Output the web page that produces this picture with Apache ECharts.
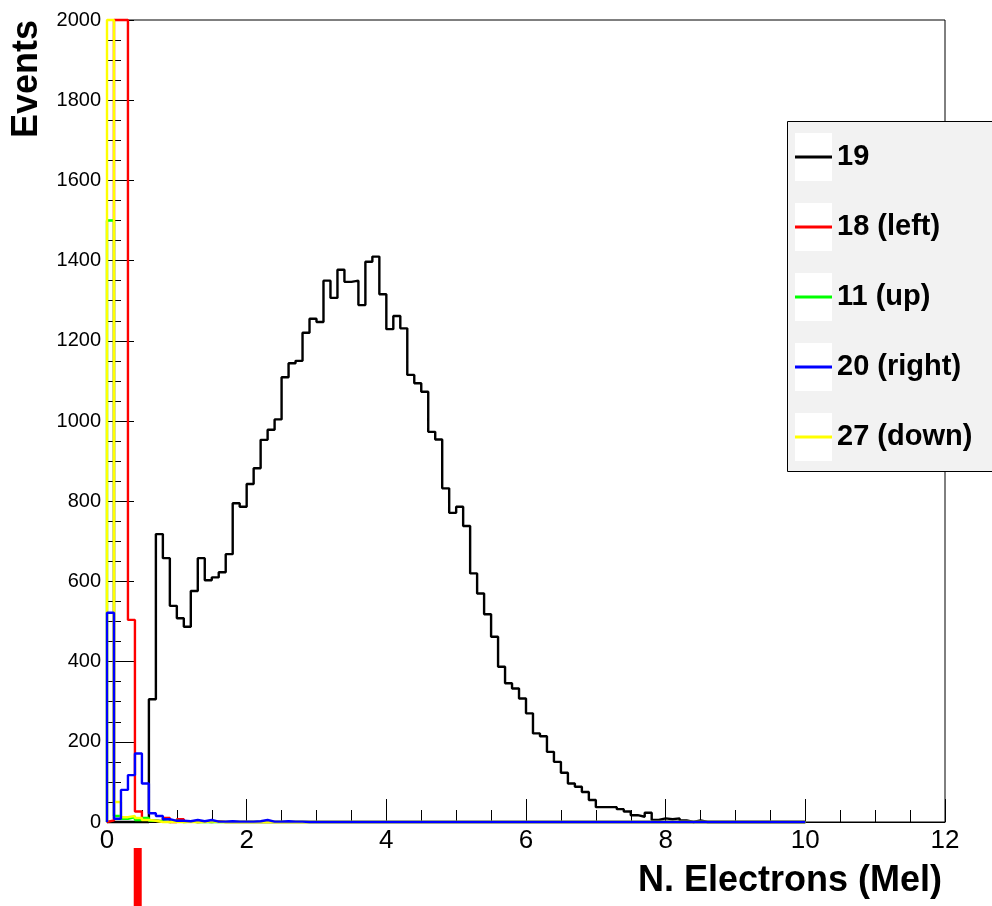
<!DOCTYPE html>
<html>
<head>
<meta charset="utf-8">
<script src="https://cdn.jsdelivr.net/npm/echarts@6/dist/echarts.min.js"></script>
<style>
  html, body { margin: 0; padding: 0; background: #fff; }
  #tubiao { width: 992px; height: 906px; }
</style>
</head>
<body>
<div id="tubiao"></div>
<script>
// histogram bins: 0.1 Mel wide, from 0 to 10
var binWidth = 0.1;
var nBins = 100;
var yMax = 2000;

// counts per bin (bins past the listed ones are empty)
var h19 = [0, 0, 0, 0, 0, 0, 306, 718, 658, 539,
           508, 487, 576, 658, 603, 610, 623, 668, 795, 786,
           843, 882, 953, 978, 1004, 1109, 1144, 1150, 1220, 1255,
           1247, 1350, 1307, 1377, 1347, 1350, 1289, 1397, 1410, 1316,
           1229, 1262, 1231, 1115, 1094, 1073, 973, 954, 832, 771,
           786, 738, 620, 570, 518, 462, 387, 346, 333, 308,
           271, 221, 214, 175, 150, 123, 96, 88, 75, 55,
           37, 37, 37, 32, 26, 17, 13, 23, 5, 9,
           7, 9, 4, 0, 4];
var h18left = [4, 2600, 2600, 504, 26, 8, 3, 2, 10, 0, 7, 2, 0, 1, 0, 2];
var h11up = [1500, 15, 8, 12, 5, 10, 3, 2, 0, 3, 0, 1];
var h20right = [522, 8, 80, 117, 171, 96, 22, 15, 7, 3,
                3, 2, 5, 2, 5, 1, 1, 2, 1, 1,
                1, 2, 5, 1, 1, 2, 1, 1];
var h27down = [2600, 50, 12, 15, 10, 5, 3, 0, 0, 0, 0, 0, 0, 0, 2];

var xTicks = [0, 2, 4, 6, 8, 10, 12];
var yTicks = [0, 200, 400, 600, 800, 1000, 1200, 1400, 1600, 1800, 2000];

// where the red marker under the x axis sits
var markerX = 0.44;

// bins -> step points, off-scale bins drawn along the frame like ROOT does
function histPoints(bins) {
    var pts = [[0, 0]];
    for (var i = 0; i < nBins; i++) {
        var v = i < bins.length ? bins[i] : 0;
        pts.push([i * binWidth, Math.min(v, yMax)]);
    }
    pts.push([nBins * binWidth, 0]);
    return pts;
}

function hist(name, color, bins) {
    return {
        name: name,
        type: 'line',
        step: 'end',
        data: histPoints(bins),
        showSymbol: false,
        symbol: 'none',
        clip: false,
        color: color,
        lineStyle: { color: color, width: 2.4 }
    };
}

var font = '"Liberation Sans", Arial, Helvetica, sans-serif';

var myChart = echarts.init(document.getElementById('tubiao'));
var option = {
    animation: false,
    backgroundColor: '#fff',
    grid: {
        left: 107, right: 47, top: 20, bottom: 84,
        show: true, borderColor: '#000', borderWidth: 1, backgroundColor: 'transparent'
    },
    legend: {
        orient: 'vertical',
        left: 787, top: 122,
        padding: [20, 20, 20, 8],
        itemGap: 40,
        itemWidth: 37,
        itemHeight: 3,
        icon: 'rect',
        backgroundColor: 'transparent',
        borderWidth: 0,
        data: ['19', '18 (left)', '11 (up)', '20 (right)', '27 (down)'],
        textStyle: { color: '#000', fontSize: 29, fontWeight: 'bold', fontFamily: font, lineHeight: 30 }
    },
    xAxis: {
        type: 'value',
        min: xTicks[0], max: xTicks[xTicks.length - 1], interval: 2,
        axisLine: { show: true, onZero: false, lineStyle: { color: '#000', width: 1 } },
        axisTick: { show: true, inside: true, length: 23, lineStyle: { color: '#000', width: 1 } },
        minorTick: { show: true, splitNumber: 4, length: 12, lineStyle: { color: '#000', width: 1 } },
        splitLine: { show: false },
        axisLabel: { color: '#000', fontSize: 26, fontFamily: font, margin: 6,
                     formatter: function (v) { return String(v); } }
    },
    yAxis: {
        type: 'value',
        min: yTicks[0], max: yTicks[yTicks.length - 1], interval: 200,
        axisLine: { show: true, lineStyle: { color: '#000', width: 1 } },
        axisTick: { show: true, inside: true, length: 27, lineStyle: { color: '#000', width: 1 } },
        minorTick: { show: true, splitNumber: 4, length: 14, lineStyle: { color: '#000', width: 1 } },
        splitLine: { show: false },
        axisLabel: { color: '#000', fontSize: 20, fontFamily: font, margin: 6,
                     formatter: function (v) { return String(v); } }
    },
    // drawing order: black, red, green, yellow, blue on top
    series: [
        hist('19', '#000000', h19),
        hist('18 (left)', '#ff0000', h18left),
        hist('11 (up)', '#00ff00', h11up),
        hist('27 (down)', '#ffff00', h27down),
        hist('20 (right)', '#0000ff', h20right)
    ]
};
myChart.setOption(option);

// legend box + white icon squares, axis titles, red marker
var elements = [
    {
        type: 'rect', z: 3, z2: 0,
        shape: { x: 787.5, y: 121.5, width: 220, height: 350 },
        style: { fill: '#f2f2f2', stroke: '#000', lineWidth: 1 }
    },
    {
        type: 'text', z: 5, x: 942, y: 881,
        style: { text: 'N. Electrons (Mel)', fill: '#000', align: 'right', verticalAlign: 'middle',
                 font: 'bold 36px ' + font }
    },
    {
        type: 'text', z: 5, x: 27, y: 20, rotation: Math.PI / 2,
        style: { text: 'Events', fill: '#000', align: 'right', verticalAlign: 'middle',
                 font: 'bold 36px ' + font }
    }
];
for (var k = 0; k < 5; k++) {
    elements.push({
        type: 'rect', z: 3, z2: 1,
        shape: { x: 795, y: 157 + k * 70 - 24, width: 37, height: 48 },
        style: { fill: '#fff' }
    });
}
var mx = myChart.convertToPixel({ xAxisIndex: 0 }, markerX);
elements.push({
    type: 'rect', z: 5,
    shape: { x: mx - 4, y: 848, width: 8, height: 60 },
    style: { fill: '#ff0000' }
});
myChart.setOption({ graphic: { elements: elements } });
</script>
</body>
</html>
